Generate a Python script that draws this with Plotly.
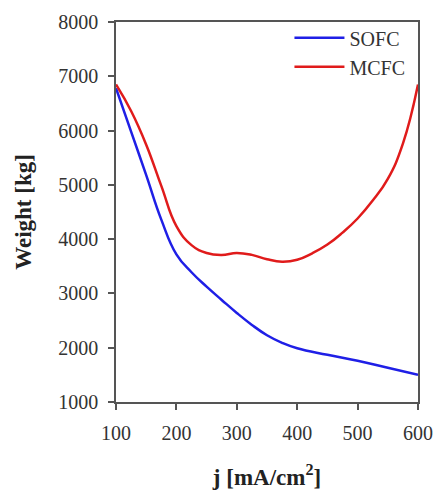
import plotly.graph_objects as go

j_sofc = [100, 125, 150, 175, 200, 225, 250, 275, 300, 325, 350, 375, 400, 450, 500, 550, 600]
w_sofc = [6780, 5980, 5180, 4360, 3720, 3390, 3125, 2880, 2640, 2420, 2230, 2090, 1990, 1870, 1760, 1630, 1500]

j_mcfc = [100, 125, 150, 175, 200, 225, 250, 275, 300, 325, 350, 375, 400, 425, 450, 475, 500, 525, 550, 575, 600]
w_mcfc = [6850, 6360, 5740, 4980, 4240, 3890, 3745, 3710, 3745, 3710, 3630, 3585, 3620, 3740, 3900, 4120, 4380, 4710, 5110, 5760, 6850]

x_ticks = [100, 200, 300, 400, 500, 600]
y_ticks = [1000, 2000, 3000, 4000, 5000, 6000, 7000, 8000]

FONT = "Liberation Serif"

fig = go.Figure()
fig.add_trace(go.Scatter(x=j_sofc, y=w_sofc, mode="lines", name="SOFC",
                         line=dict(color="#1f1fe6", width=2.5, shape="spline", smoothing=1.3)))
fig.add_trace(go.Scatter(x=j_mcfc, y=w_mcfc, mode="lines", name="MCFC",
                         line=dict(color="#e01b1b", width=2.5, shape="spline", smoothing=1.3)))

axis_common = dict(showgrid=False, zeroline=False, showline=True, linecolor="#555555", linewidth=1.5,
                   mirror=True, ticks="outside", ticklen=6, tickcolor="#555555", tickwidth=1.5,
                   automargin=False,
                   tickfont=dict(family=FONT, size=20, color="#333333"))

fig.update_xaxes(range=[100, 600], tickvals=x_ticks, ticklabelstandoff=6,
                 title=dict(text="<b>j [mA/cm<sup>2</sup>]</b>", font=dict(family=FONT, size=23, color="#222222"), standoff=26),
                 **axis_common)
fig.update_yaxes(range=[1000, 8000], tickvals=y_ticks, ticklabelstandoff=6,
                 title=dict(text="<b>Weight [kg]</b>", font=dict(family=FONT, size=23, color="#222222"), standoff=20),
                 **axis_common)

fig.update_layout(
    width=433, height=491,
    margin=dict(l=116, r=15, t=22, b=89),
    plot_bgcolor="white", paper_bgcolor="white",
    legend=dict(x=0.975, y=1.01, xanchor="right", yanchor="top",
                font=dict(family=FONT, size=20, color="#333333"),
                bgcolor="rgba(0,0,0,0)", tracegroupgap=0, itemwidth=50),
    showlegend=True,
)

fig.write_html("out.html")
